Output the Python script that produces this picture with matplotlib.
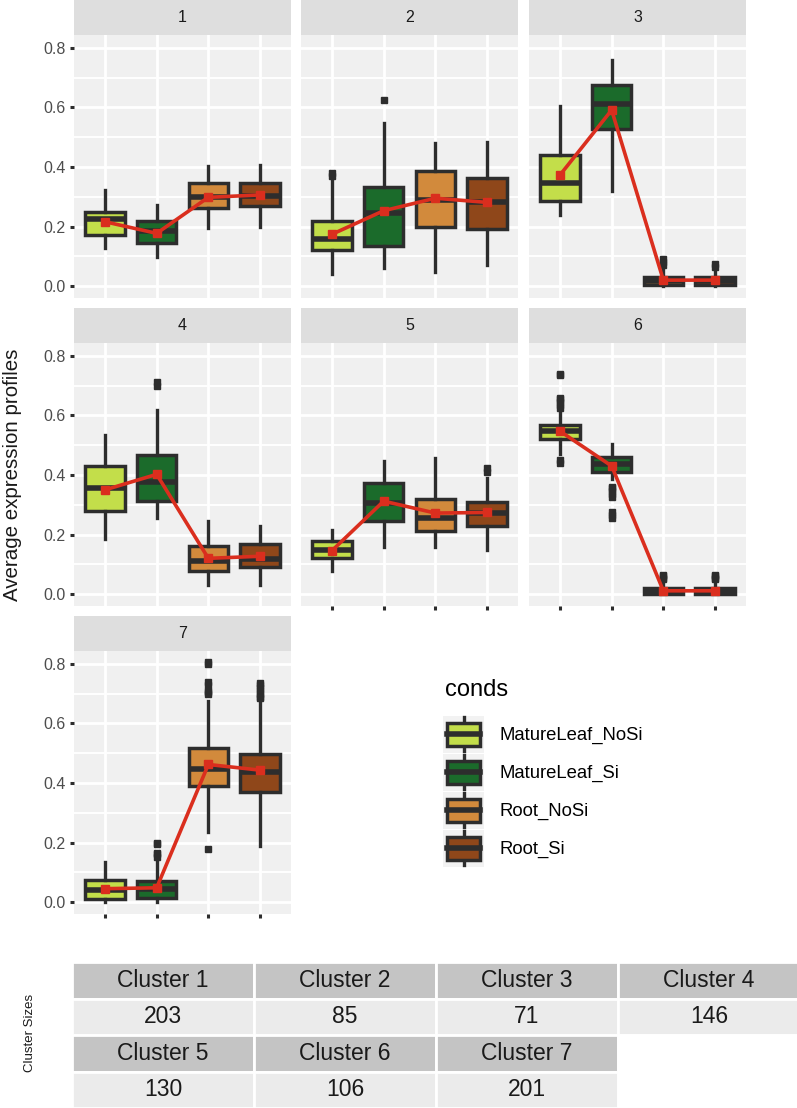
import matplotlib
matplotlib.use("Agg")
import matplotlib.pyplot as plt
from matplotlib.patches import Patch, Rectangle
from matplotlib.lines import Line2D
from matplotlib.legend_handler import HandlerBase

# data
conds = ["MatureLeaf_NoSi", "MatureLeaf_Si", "Root_NoSi", "Root_Si"]
cond_colors = ["#C3DE4A", "#1B6B2B", "#D28A3C", "#8F471A"]
clusters = ["1", "2", "3", "4", "5", "6", "7"]
cluster_sizes = [203, 85, 71, 146, 130, 106, 201]

q1 = [[0.170, 0.145, 0.262, 0.270],
      [0.120, 0.135, 0.198, 0.193],
      [0.285, 0.529, 0.003, 0.003],
      [0.278, 0.312, 0.079, 0.090],
      [0.120, 0.247, 0.213, 0.230],
      [0.521, 0.410, 0.000, 0.000],
      [0.010, 0.013, 0.390, 0.370]]
med = [[0.226, 0.185, 0.299, 0.304],
       [0.157, 0.245, 0.288, 0.283],
       [0.345, 0.612, 0.018, 0.018],
       [0.357, 0.375, 0.112, 0.117],
       [0.148, 0.305, 0.255, 0.273],
       [0.547, 0.438, 0.008, 0.008],
       [0.041, 0.045, 0.447, 0.438]]
q3 = [[0.250, 0.218, 0.345, 0.347],
      [0.220, 0.333, 0.388, 0.362],
      [0.440, 0.675, 0.032, 0.030],
      [0.429, 0.468, 0.160, 0.168],
      [0.177, 0.374, 0.318, 0.310],
      [0.569, 0.460, 0.020, 0.020],
      [0.075, 0.072, 0.516, 0.496]]
whis_lo = [[0.127, 0.097, 0.196, 0.200],
           [0.040, 0.060, 0.048, 0.071],
           [0.238, 0.320, 0.000, 0.000],
           [0.185, 0.256, 0.030, 0.031],
           [0.079, 0.157, 0.157, 0.148],
           [0.470, 0.385, 0.000, 0.000],
           [0.000, 0.000, 0.234, 0.187]]
whis_hi = [[0.322, 0.273, 0.404, 0.408],
           [0.355, 0.548, 0.481, 0.485],
           [0.604, 0.758, 0.060, 0.050],
           [0.533, 0.617, 0.245, 0.230],
           [0.215, 0.447, 0.458, 0.390],
           [0.610, 0.505, 0.045, 0.045],
           [0.134, 0.145, 0.676, 0.669]]
outliers = [[[], [], [], []],
            [[0.370, 0.378], [0.625], [], []],
            [[], [], [0.070, 0.080, 0.090], [0.065, 0.075]],
            [[], [0.700, 0.712], [], []],
            [[], [], [], [0.410, 0.422]],
            [[0.440, 0.450, 0.625, 0.635, 0.645, 0.655, 0.660, 0.735, 0.740],
             [0.255, 0.265, 0.275, 0.325, 0.335, 0.345, 0.355, 0.360],
             [0.050, 0.055, 0.060, 0.065], [0.050, 0.055, 0.060, 0.065]],
            [[], [0.153, 0.160, 0.165, 0.195, 0.200],
             [0.178, 0.700, 0.705, 0.710, 0.730, 0.740, 0.800, 0.805],
             [0.685, 0.690, 0.700, 0.710, 0.720, 0.730, 0.735]]]
means = [[0.216, 0.177, 0.298, 0.306],
         [0.174, 0.253, 0.295, 0.281],
         [0.373, 0.591, 0.020, 0.020],
         [0.350, 0.402, 0.120, 0.127],
         [0.146, 0.312, 0.272, 0.274],
         [0.547, 0.430, 0.011, 0.011],
         [0.045, 0.048, 0.462, 0.443]]

DARK = "#2D2D2D"
RED = "#DA2E1E"
W, H = 797, 1108

plt.rcParams["font.family"] = ["Liberation Sans", "DejaVu Sans"]


def fx(px):
    return px / W


def fy(py):
    return 1 - py / H


class BoxKey(HandlerBase):
    def create_artists(self, legend, orig_handle, xdescent, ydescent,
                       width, height, fontsize, trans):
        x0, y0 = -xdescent, -ydescent
        cx = x0 + width / 2
        bg = Rectangle((x0 - 3, y0), width + 6, height, facecolor="#F2F2F2",
                       edgecolor="none", transform=trans)
        wh = Line2D([cx, cx], [y0 + 0.04 * height, y0 + 0.96 * height],
                    color=DARK, lw=2.4, transform=trans)
        box = Rectangle((x0, y0 + 0.19 * height), width, 0.62 * height,
                        facecolor=orig_handle.get_facecolor(), edgecolor=DARK,
                        lw=2.5, transform=trans)
        md = Line2D([x0, x0 + width], [y0 + height / 2] * 2, color=DARK,
                    lw=4.0, transform=trans)
        return [bg, wh, box, md]


fig = plt.figure(figsize=(W / 100, H / 100), dpi=100)

panel_x = [(74, 291), (301, 518), (529, 746)]
row_top = [0, 308, 616]
strip_h, panel_h = 35, 263
positions = [1, 2, 3, 4]

for i, name in enumerate(clusters):
    r, c = divmod(i, 3)
    x0, x1 = panel_x[c]
    top = row_top[r]
    ax = fig.add_axes([fx(x0), fy(top + strip_h + panel_h), (x1 - x0) / W, panel_h / H])
    sax = fig.add_axes([fx(x0), fy(top + strip_h), (x1 - x0) / W, strip_h / H])
    sax.set_facecolor("#DEDEDE")
    sax.set_xticks([])
    sax.set_yticks([])
    for s in sax.spines.values():
        s.set_visible(False)
    sax.text(0.5, 0.5, name, ha="center", va="center", fontsize=11.5, color="#1A1A1A")

    stats = []
    for j in range(4):
        stats.append(dict(med=med[i][j], q1=q1[i][j], q3=q3[i][j],
                          whislo=whis_lo[i][j], whishi=whis_hi[i][j],
                          fliers=outliers[i][j]))
    bp = ax.bxp(stats, positions=positions, widths=0.76, patch_artist=True,
                showcaps=False,
                boxprops=dict(linewidth=2.5, edgecolor=DARK),
                medianprops=dict(color=DARK, linewidth=4.0, solid_capstyle="butt"),
                whiskerprops=dict(color=DARK, linewidth=2.4),
                flierprops=dict(marker="s", markersize=4.8, markerfacecolor=DARK,
                                markeredgecolor=DARK))
    for patch, col in zip(bp["boxes"], cond_colors):
        patch.set_facecolor(col)
    ax.plot(positions, means[i], color=RED, lw=2.6, marker="s", ms=6, zorder=5)

    ax.set_facecolor("#F0F0F0")
    ax.set_xlim(0.4, 4.6)
    ax.set_ylim(-0.04, 0.843)
    ax.set_yticks([0.0, 0.2, 0.4, 0.6, 0.8])
    ax.set_yticklabels(["0.0", "0.2", "0.4", "0.6", "0.8"])
    ax.set_yticks([0.1, 0.3, 0.5, 0.7], minor=True)
    ax.set_xticks(positions)
    ax.set_xticklabels(["", "", "", ""])
    ax.set_axisbelow(True)
    ax.grid(which="major", color="white", lw=2.0)
    ax.grid(which="minor", axis="y", color="white", lw=1.4)
    for s in ax.spines.values():
        s.set_visible(False)
    ax.tick_params(which="minor", length=0)
    if c == 0:
        ax.tick_params(axis="y", length=3, width=2.2, color=DARK, pad=3,
                       labelsize=11.5, labelcolor="#4D4D4D")
    else:
        ax.tick_params(axis="y", length=0, labelleft=False)
    if i >= 4:
        ax.tick_params(axis="x", length=3, width=2.2, color=DARK)
    else:
        ax.tick_params(axis="x", length=0)

fig.text(fx(13), fy(475), "Average expression profiles", rotation=90,
         ha="center", va="center", fontsize=14.8, color="#1A1A1A")

# legend
fig.text(fx(445), fy(690), "conds", ha="left", va="center", fontsize=17,
         color="black")
handles = [Patch(facecolor=col) for col in cond_colors]
fig.legend(handles=handles, labels=conds, loc="upper left",
           bbox_to_anchor=(fx(447), fy(716)), frameon=False, fontsize=13.3,
           handler_map={Patch: BoxKey()}, handlelength=1.8,
           handleheight=2.7, labelspacing=0.05, handletextpad=1.05,
           borderpad=0, borderaxespad=0)

# cluster size table
labels = ["Cluster " + name for name in clusters]
cell_text = [labels[:4], [str(v) for v in cluster_sizes[:4]],
             labels[4:] + [""], [str(v) for v in cluster_sizes[4:]] + [""]]
tax = fig.add_axes([fx(72), fy(1108), (800 - 72) / W, (1108 - 962) / H])
tax.axis("off")
tbl = tax.table(cellText=cell_text, bbox=[0, 0, 1, 1], cellLoc="center")
tbl.auto_set_font_size(False)
tbl.set_fontsize(16.5)
for (r, c), cell in tbl.get_celld().items():
    cell.set_edgecolor("white")
    cell.set_linewidth(2)
    if cell_text[r][c] == "":
        cell.set_facecolor("white")
    elif r % 2 == 0:
        cell.set_facecolor("#C4C4C4")
    else:
        cell.set_facecolor("#EBEBEB")
    cell.get_text().set_color("#1A1A1A")

fig.text(fx(30), fy(1033), "Cluster Sizes", rotation=90, ha="center",
         va="center", fontsize=9.5, color="#1A1A1A")

fig.savefig("out.png", dpi=100)
